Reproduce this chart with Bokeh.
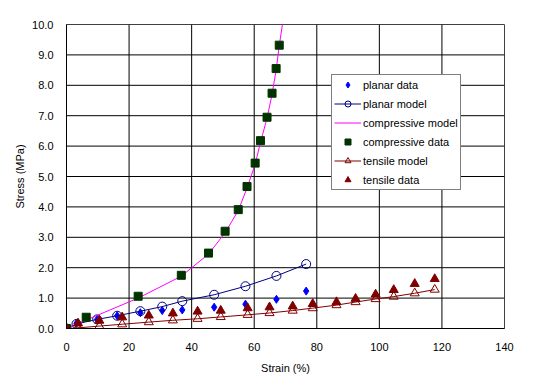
from bokeh.plotting import figure
from bokeh.models import Range1d, FixedTicker, Legend, LegendItem, PrintfTickFormatter
from bokeh.embed import file_html
from bokeh.resources import INLINE

# ---- data ----
planar_x = [0, 3.2, 9.8, 16.2, 23.6, 30.6, 37.0, 47.2, 57.2, 67.1, 76.6]
planar_data = [0.0, 0.17, 0.30, 0.42, 0.52, 0.59, 0.61, 0.70, 0.80, 0.96, 1.23]
planar_model = [0.0, 0.15, 0.30, 0.42, 0.57, 0.72, 0.90, 1.11, 1.39, 1.73, 2.12]

comp_x = [0, 6.3, 22.9, 36.7, 45.4, 50.7, 54.9, 57.7, 60.3, 62.0, 64.1, 65.7, 67.0, 68.0]
comp_data = [0.0, 0.37, 1.06, 1.75, 2.48, 3.20, 3.91, 4.67, 5.44, 6.18, 6.95, 7.74, 8.55, 9.32]
comp_model_x = [0, 6.3, 22.9, 36.7, 45.4, 50.7, 54.9, 57.7, 60.3, 62.0, 64.1, 65.7, 67.0, 68.0, 69.3]
comp_model = [0.0, 0.28, 1.00, 1.72, 2.45, 3.15, 3.88, 4.62, 5.40, 6.12, 6.92, 7.70, 8.50, 9.30, 10.2]

tens_x = [0, 3.7, 10.5, 17.8, 26.3, 34.0, 41.9, 49.3, 57.9, 64.9, 72.3, 78.7, 86.3, 92.4, 98.8, 104.6, 111.3, 117.7]
tens_data = [0.0, 0.17, 0.26, 0.37, 0.43, 0.50, 0.56, 0.59, 0.67, 0.70, 0.73, 0.81, 0.87, 0.98, 1.12, 1.27, 1.47, 1.63]
tens_model = [0.0, 0.02, 0.08, 0.14, 0.21, 0.27, 0.32, 0.38, 0.45, 0.51, 0.59, 0.67, 0.77, 0.87, 0.97, 1.05, 1.16, 1.28]

x_ticks = [0, 20, 40, 60, 80, 100, 120, 140]
y_ticks = [0, 1, 2, 3, 4, 5, 6, 7, 8, 9, 10]
x_lo, x_hi = 0, 140
y_lo, y_hi = 0, 10

FONT = "Liberation Sans"

p = figure(frame_width=438, frame_height=304, output_backend="svg", toolbar_location=None,
           x_range=Range1d(x_lo, x_hi), y_range=Range1d(y_lo, y_hi),
           min_border_left=66, min_border_right=53, min_border_top=24, min_border_bottom=51)
p.background_fill_color = "white"
p.border_fill_color = "white"
p.outline_line_color = "#808080"
p.outline_line_width = 1

for ax in (p.xaxis[0], p.yaxis[0]):
    ax.axis_line_color = "black"
    ax.major_tick_line_color = None
    ax.minor_tick_line_color = None
    ax.major_label_text_font = FONT
    ax.major_label_text_font_size = "11px"
    ax.major_label_text_color = "black"
    ax.axis_label_text_font = FONT
    ax.axis_label_text_font_size = "11px"
    ax.axis_label_text_font_style = "normal"
    ax.axis_label_text_color = "black"

p.xaxis.ticker = FixedTicker(ticks=x_ticks)
p.yaxis.ticker = FixedTicker(ticks=y_ticks)
p.yaxis.formatter = PrintfTickFormatter(format="%.1f")
p.xaxis.axis_label = "Strain (%)"
p.yaxis.axis_label = "Stress (MPa)"
p.xaxis.major_label_standoff = 8
p.yaxis.major_label_standoff = 7
p.xaxis.axis_label_standoff = 8
p.yaxis.axis_label_standoff = 3

p.xgrid.grid_line_color = None
p.ygrid.grid_line_color = None

# gridlines drawn as glyphs (under the data)
p.segment(x0=x_ticks, y0=[y_lo] * len(x_ticks), x1=x_ticks, y1=[y_hi] * len(x_ticks),
          line_color="black", line_width=1)
p.segment(x0=[x_lo] * len(y_ticks), y0=y_ticks, x1=[x_hi] * len(y_ticks), y1=y_ticks,
          line_color="black", line_width=1)

# planar
r_pd = p.scatter(planar_x, planar_data, marker="diamond", size=8, fill_color="#0000FF", line_color="#0000FF")
r_pm_l = p.line(planar_x, planar_model, line_color="#000080", line_width=1)
r_pm_m = p.scatter(planar_x, planar_model, marker="circle", size=9, fill_alpha=0, line_color="#000080")
# compressive
r_cm_l = p.line(comp_model_x, comp_model, line_color="#FF00FF", line_width=1)
r_cm_m = p.scatter(x=[], y=[], marker="square", size=7, fill_color="white", line_color="#FF00FF")
r_cd = p.scatter(comp_x, comp_data, marker="square", size=8, fill_color="#003300", line_color="#003300")
# tensile
r_tm_l = p.line(tens_x, tens_model, line_color="#800000", line_width=1)
r_tm_m = p.scatter(tens_x, tens_model, marker="triangle", size=9, fill_alpha=0, line_color="#800000")
r_td = p.scatter(tens_x, tens_data, marker="triangle", size=9, fill_color="#800000", line_color="#800000")

legend = Legend(items=[
    LegendItem(label="planar data", renderers=[r_pd]),
    LegendItem(label="planar model", renderers=[r_pm_l, r_pm_m]),
    LegendItem(label="compressive model", renderers=[r_cm_l, r_cm_m]),
    LegendItem(label="compressive data", renderers=[r_cd]),
    LegendItem(label="tensile model", renderers=[r_tm_l, r_tm_m]),
    LegendItem(label="tensile data", renderers=[r_td]),
], location=(265, 138))
legend.border_line_color = "black"
legend.border_line_width = 1
legend.background_fill_color = "white"
legend.background_fill_alpha = 1
legend.label_text_font = FONT
legend.label_text_font_size = "11px"
legend.label_text_color = "black"
legend.glyph_width = 27
legend.glyph_height = 15
legend.label_height = 15
legend.spacing = 4
legend.padding = 2
legend.margin = 0
legend.label_standoff = 2
p.add_layout(legend, "center")

open("out.html", "w").write(file_html(p, INLINE))
